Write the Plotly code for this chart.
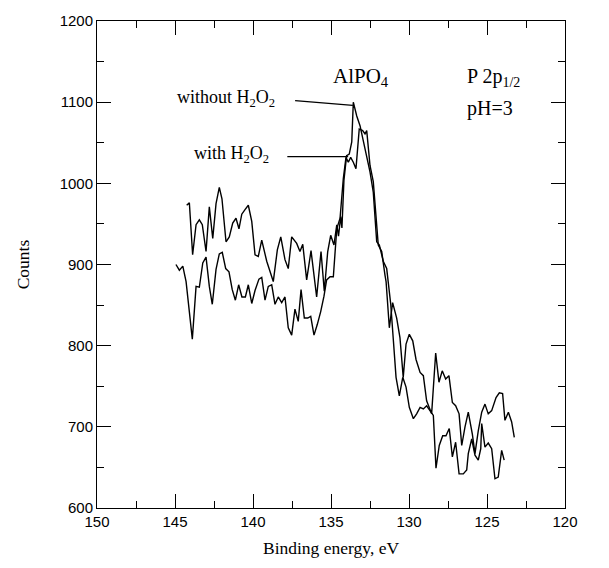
import plotly.graph_objects as go

# Series: "with H2O2"
with_x = [144.94, 144.72, 144.5, 144.29, 143.89, 143.65, 143.44, 143.22, 143.01, 142.8,
          142.61, 142.37, 142.16, 141.97, 141.75, 141.54, 141.33, 141.13, 140.92, 140.71,
          140.49, 140.3, 140.08, 139.87, 139.62, 139.44, 139.23, 139.02, 138.8, 138.59,
          138.38, 138.16, 137.95, 137.74, 137.52, 137.31, 137.1, 136.92, 136.71, 136.49,
          136.3, 136.09, 135.88, 135.66, 135.45, 135.28, 135.06, 134.85, 134.63, 134.42,
          134.21, 134.04, 133.89, 133.74, 133.57, 133.4, 133.19, 132.97, 132.82, 132.71,
          132.5, 132.29, 131.97, 131.75, 131.54, 131.47, 131.26, 131.05, 130.79, 130.58,
          130.37, 130.19, 129.98, 129.76, 129.55, 129.29, 129.08, 128.87, 128.55, 128.29,
          128.08, 127.87, 127.65, 127.44, 127.22, 127.01, 126.79, 126.62, 126.41, 126.2,
          125.94, 125.77, 125.56, 125.34, 125.13, 124.92, 124.7, 124.42, 124.21, 124.0,
          123.85, 123.63, 123.42, 123.25]
with_y = [900, 893, 898, 879, 808, 873, 872, 902, 909, 873,
          851, 894, 913, 915, 895, 891, 869, 856, 875, 860,
          860, 875, 852, 868, 882, 884, 856, 873, 875, 851,
          860, 853, 860, 822, 813, 845, 830, 869, 834, 834,
          836, 813, 826, 842, 861, 881, 885, 885, 944, 957,
          1006, 1032, 1026, 1032, 1026, 1018, 1067, 1065, 1061, 1065,
          1022, 1002, 924, 916, 887, 879, 822, 853, 834, 810,
          761, 802, 814, 806, 783, 767, 763, 732, 716, 791,
          755, 769, 759, 763, 730, 726, 716, 677, 700, 718,
          691, 667, 695, 718, 728, 716, 720, 736, 742, 741,
          708, 718, 706, 687]

# Series: "without H2O2"
without_x = [144.25, 144.08, 143.87, 143.65, 143.44, 143.25, 143.01, 142.8, 142.58, 142.37,
             142.16, 141.99, 141.73, 141.52, 141.3, 141.09, 140.9, 140.72, 140.5, 140.3,
             140.08, 139.87, 139.66, 139.44, 139.12, 138.7, 138.44, 138.22, 137.95, 137.74,
             137.52, 137.2, 136.99, 136.81, 136.56, 136.28, 135.92, 135.64, 135.43, 135.21,
             135.02, 134.81, 134.63, 134.52, 134.38, 134.3, 134.17, 134.0, 133.83, 133.67,
             133.57, 133.35, 133.14, 132.93, 132.5, 132.29, 132.07, 131.9, 131.65, 131.43,
             131.33, 131.17, 131.0, 130.83, 130.62, 130.4, 130.19, 129.98, 129.72, 129.51,
             129.29, 129.08, 128.87, 128.65, 128.44, 128.27, 128.06, 127.84, 127.63, 127.42,
             127.22, 127.01, 126.79, 126.52, 126.3, 126.2, 125.98, 125.77, 125.56, 125.4,
             125.34, 125.13, 124.92, 124.7, 124.49, 124.28, 124.06, 123.9]
without_y = [973, 976, 912, 949, 955, 949, 916, 971, 932, 975,
             995, 981, 928, 934, 951, 957, 944, 962, 968, 973,
             953, 912, 910, 930, 904, 879, 918, 934, 906, 895,
             934, 926, 916, 925, 881, 917, 860, 916, 867, 916,
             936, 924, 949, 935, 959, 945, 1004, 1034, 1036, 1051,
             1100, 1083, 1071, 1051, 1014, 989, 928, 924, 904, 895,
             879, 851, 806, 761, 738, 761, 749, 724, 710, 716,
             724, 722, 726, 720, 714, 649, 677, 689, 689, 698,
             663, 681, 642, 642, 647, 667, 685, 665, 659, 673,
             704, 675, 680, 673, 636, 638, 671, 659]

x_ticks = [150, 145, 140, 135, 130, 125, 120]
y_ticks = [600, 700, 800, 900, 1000, 1100, 1200]

serif = "Liberation Serif, Times New Roman, serif"
sans = "Liberation Sans, Arial, sans-serif"

fig = go.Figure()
fig.add_trace(go.Scatter(x=without_x, y=without_y, mode="lines",
                         line=dict(color="black", width=1.4), name="without H2O2"))
fig.add_trace(go.Scatter(x=with_x, y=with_y, mode="lines",
                         line=dict(color="black", width=1.4), name="with H2O2"))

# leader lines
fig.add_shape(type="line", x0=137.3, y0=1102, x1=133.6, y1=1096,
              line=dict(color="black", width=1.2))
fig.add_shape(type="line", x0=137.8, y0=1033, x1=133.9, y1=1033,
              line=dict(color="black", width=1.2))

ann = [
    dict(x=138.45, y=1104, text="without H<sub>2</sub>O<sub>2</sub>", xanchor="right", size=18),
    dict(x=138.85, y=1035, text="with H<sub>2</sub>O<sub>2</sub>", xanchor="right", size=18),
    dict(x=133.05, y=1131, text="AlPO<sub>4</sub>", xanchor="center", size=21),
    dict(x=126.4, y=1131, text="P 2p<sub>1/2</sub>", xanchor="left", size=20),
    dict(x=126.4, y=1092, text="pH=3", xanchor="left", size=20),
]
for a in ann:
    fig.add_annotation(x=a["x"], y=a["y"], text=a["text"], xanchor=a["xanchor"],
                       yanchor="middle", showarrow=False,
                       font=dict(family=serif, size=a["size"], color="black"))

axis_common = dict(showgrid=False, zeroline=False, showline=True, linecolor="black",
                   linewidth=1, mirror="ticks", ticks="inside", ticklen=14,
                   tickcolor="black", tickwidth=1.2,
                   tickfont=dict(family=sans, size=15, color="black"))

fig.update_xaxes(range=[150, 120], tickvals=x_ticks,
                 title=dict(text="Binding energy, eV", font=dict(family=serif, size=17.5, color="black"),
                            standoff=12),
                 minor=dict(dtick=2.5, ticks="inside", ticklen=7, tickcolor="black"),
                 **axis_common)
fig.update_yaxes(range=[600, 1200], tickvals=y_ticks,
                 title=dict(text="Counts", font=dict(family=serif, size=17.5, color="black"),
                            standoff=25),
                 minor=dict(dtick=50, ticks="inside", ticklen=7, tickcolor="black"),
                 **axis_common)

fig.update_layout(width=609, height=568, margin=dict(l=97, r=44, t=18, b=60),
                  plot_bgcolor="white", paper_bgcolor="white", showlegend=False)

fig.write_html("out.html")
